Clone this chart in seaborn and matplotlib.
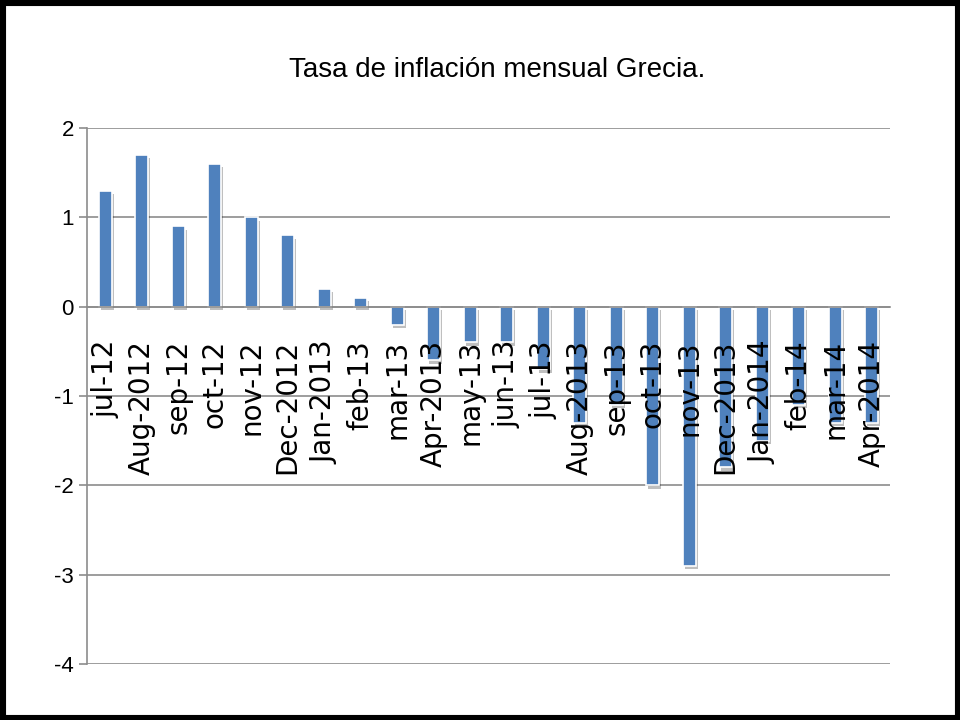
import matplotlib
matplotlib.use("Agg")
import matplotlib.pyplot as plt
import matplotlib.patheffects as pe
from matplotlib.patches import Rectangle
from matplotlib.ticker import FixedLocator
import seaborn as sns
import pandas as pd

months = ["jul-12", "Aug-2012", "sep-12", "oct-12", "nov-12", "Dec-2012",
          "Jan-2013", "feb-13", "mar-13", "Apr-2013", "may-13", "jun-13",
          "jul-13", "Aug-2013", "sep-13", "oct-13", "nov-13", "Dec-2013",
          "Jan-2014", "feb-14", "mar-14", "Apr-2014"]
inflation = [1.3, 1.7, 0.9, 1.6, 1.0, 0.8, 0.2, 0.1, -0.2, -0.6, -0.4, -0.4,
             -0.7, -1.3, -1.1, -2.0, -2.9, -1.8, -1.5, -1.1, -1.3, -1.3]
y_ticks = [-4, -3, -2, -1, 0, 1, 2]

df = pd.DataFrame({"mes": months, "tasa": inflation})

sns.set_style("white")
plt.rcParams["font.family"] = ["DejaVu Sans"]
plt.rcParams["text.color"] = "black"
plt.rcParams["xtick.labelcolor"] = "black"
plt.rcParams["ytick.labelcolor"] = "black"
sans = ["Liberation Sans", "DejaVu Sans"]

fig = plt.figure(figsize=(9.6, 7.2), dpi=100)
ax = fig.add_axes([0.0906, 0.0778, 0.8364, 0.7444])

sns.barplot(data=df, x="mes", y="tasa", color="#4F81BD", width=0.36,
            edgecolor="white", linewidth=1.2, saturation=1, ax=ax, zorder=2)
for p in ax.patches:
    p.set_path_effects([pe.SimplePatchShadow(offset=(1.5, -2.5), shadow_rgbFace="black", alpha=0.25),
                        pe.Normal()])

ax.set_xlim(-0.5, len(months) - 0.5)
ax.set_ylim(-4, 2)
ax.set_yticks(y_ticks)
ax.set_yticklabels([str(v) for v in y_ticks], fontsize=16, family=sans)
ax.yaxis.grid(True, color="#8c8c8c", linewidth=1.2)
ax.set_axisbelow(True)

ax.set_xlabel("")
ax.set_ylabel("")
ax.tick_params(axis="x", which="major", length=0, pad=24, labelsize=20, rotation=90)
for lbl in ax.get_xticklabels():
    lbl.set_verticalalignment("top")
ax.xaxis.set_minor_locator(FixedLocator([i + 0.5 for i in range(-1, len(months))]))
ax.tick_params(axis="x", which="minor", length=9, width=1.2, color="#8c8c8c", direction="out")
ax.tick_params(axis="y", length=6, width=1.2, color="#8c8c8c", left=True, direction="out")
ax.xaxis.set_zorder(3)

ax.spines["bottom"].set_position(("data", 0))
ax.spines["bottom"].set_color("#8c8c8c")
ax.spines["bottom"].set_linewidth(1.2)
ax.spines["left"].set_color("#8c8c8c")
ax.spines["left"].set_linewidth(1.2)
ax.spines["top"].set_visible(False)
ax.spines["right"].set_visible(False)

fig.text(0.518, 0.903, "Tasa de inflación mensual Grecia.", ha="center", va="center",
         fontsize=20, family=sans)

fig.patches.append(Rectangle((0, 0), 1, 1, transform=fig.transFigure, fill=False,
                             edgecolor="black", linewidth=8))

fig.savefig("out.png", dpi=100)
